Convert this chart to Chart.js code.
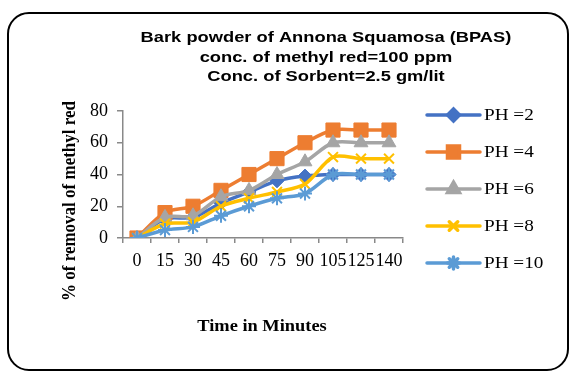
<!DOCTYPE html>
<html>
<head>
<meta charset="utf-8">
<script src="https://cdn.jsdelivr.net/npm/chart.js@4"></script>
<style>
  html, body { margin: 0; padding: 0; background: #fff; }
  #wrap { position: relative; width: 571px; height: 371px; overflow: hidden; }
  #frame {
    position: absolute; left: 7px; top: 12px; width: 562px; height: 359px;
    border: 2px solid #000; border-radius: 22px; box-sizing: border-box;
  }
  canvas { position: absolute; left: 0; top: 0; }
</style>
</head>
<body>
<div id="wrap">
  <div id="frame"></div>
  <canvas id="chart" width="571" height="371"></canvas>
</div>
<script>
// ================= Data =================
const minutes = ['0', '15', '30', '45', '60', '75', '90', '105', '125', '140'];
const ph2  = [0, 12, 13, 22, 29, 36, 39, 40, 40, 40];
const ph4  = [0, 16, 20, 30, 40, 50, 60, 68, 68, 68];
const ph6  = [0, 13, 14, 26, 30, 40, 48, 60, 60, 60];
const ph8  = [0, 9, 10, 20, 25, 29, 34, 51, 50, 50];
const ph10 = [0, 5, 7, 14, 20, 25, 28, 40, 40, 40];
const yTicks = [0, 20, 40, 60, 80];
const titleLines = [
  'Bark powder of Annona Squamosa (BPAS)',
  'conc. of methyl red=100 ppm',
  'Conc. of Sorbent=2.5 gm/lit'
];

const serif = '"Liberation Serif", "Times New Roman", serif';
const sans = '"Liberation Sans", Arial, sans-serif';

function series(label, data, color, pointStyle, radius, order) {
  return {
    label, data, order,
    borderColor: color,
    backgroundColor: color,
    pointBorderColor: color,
    pointBackgroundColor: color,
    borderWidth: 3.5,
    pointStyle,
    pointRadius: radius,
    pointBorderWidth: (pointStyle === 'crossRot' || pointStyle === 'star') ? 2 : 1,
    tension: 0.3,
    fill: false
  };
}

const datasets = [
  series('PH =2', ph2, '#4472C4', 'rectRot', 7, 5),
  series('PH =4', ph4, '#ED7D31', 'rect', 10, 4),
  series('PH =6', ph6, '#A5A5A5', 'triangle', 8, 3),
  series('PH =8', ph8, '#FFC000', 'crossRot', 7, 2),
  series('PH =10', ph10, '#5B9BD5', 'star', 7, 1)
];

// text stretched sideways, the way the original picture is
function wideText(ctx, text, x, y, sx) {
  ctx.save();
  ctx.translate(x, y);
  ctx.scale(sx, 1);
  ctx.fillText(text, 0, 0);
  ctx.restore();
}

// title, axis titles and legend drawn by hand
const decorations = {
  id: 'decorations',
  afterDraw(chart) {
    const ctx = chart.ctx;
    ctx.save();
    ctx.fillStyle = '#000';
    ctx.textAlign = 'center';
    ctx.textBaseline = 'middle';
    ctx.font = 'bold 15px ' + sans;
    titleLines.forEach((t, i) => wideText(ctx, t, 326, 38 + i * 19.5, 1.22));

    ctx.font = 'bold 16px ' + serif;
    wideText(ctx, 'Time in Minutes', 262, 327, 1.15);

    ctx.save();
    ctx.translate(70, 201);
    ctx.rotate(-Math.PI / 2);
    ctx.scale(1, 1.15);
    ctx.font = 'bold 17px ' + serif;
    ctx.fillText('% of removal of methyl red', 0, 0);
    ctx.restore();

    ctx.textAlign = 'left';
    ctx.font = '16px ' + serif;
    chart.data.datasets.forEach((ds, i) => {
      const y = 115 + i * 37;
      ctx.strokeStyle = ds.borderColor;
      ctx.lineWidth = 3.5;
      ctx.lineCap = 'round';
      ctx.beginPath();
      ctx.moveTo(427, y);
      ctx.lineTo(480, y);
      ctx.stroke();
      ctx.fillStyle = ds.borderColor;
      Chart.helpers.drawPoint(ctx, {
        pointStyle: ds.pointStyle,
        radius: ds.pointRadius * 0.85,
        borderWidth: ds.pointBorderWidth
      }, 453.5, y);
      ctx.fillStyle = '#000';
      wideText(ctx, ds.label, 484, y + 1, 1.2);
    });
    ctx.restore();
  }
};

new Chart(document.getElementById('chart'), {
  type: 'line',
  data: { labels: minutes, datasets },
  plugins: [decorations],
  options: {
    responsive: false,
    animation: false,
    layout: { padding: { left: 0, right: 168, top: 111, bottom: 103 } },
    plugins: {
      legend: { display: false },
      title: { display: false },
      tooltip: { enabled: false }
    },
    scales: {
      x: {
        offset: true,
        grid: {
          offset: true,
          drawOnChartArea: false,
          drawTicks: true,
          tickLength: 5,
          color: '#898989',
          lineWidth: 1.5
        },
        border: { color: '#898989', width: 1.5 },
        ticks: {
          color: '#000',
          font: { family: serif, size: 18 },
          padding: 7,
          maxRotation: 0,
          autoSkip: false
        },
        afterFit(scale) { scale.height = 30; }
      },
      y: {
        min: 0,
        max: 80,
        afterBuildTicks(scale) { scale.ticks = yTicks.map(v => ({ value: v })); },
        grid: {
          drawOnChartArea: false,
          drawTicks: true,
          tickLength: 6,
          color: '#898989',
          lineWidth: 1.5
        },
        border: { color: '#898989', width: 1.5 },
        ticks: {
          color: '#000',
          font: { family: serif, size: 18 },
          padding: 9
        },
        afterFit(scale) { scale.width = 123; }
      }
    }
  }
});
</script>
</body>
</html>
